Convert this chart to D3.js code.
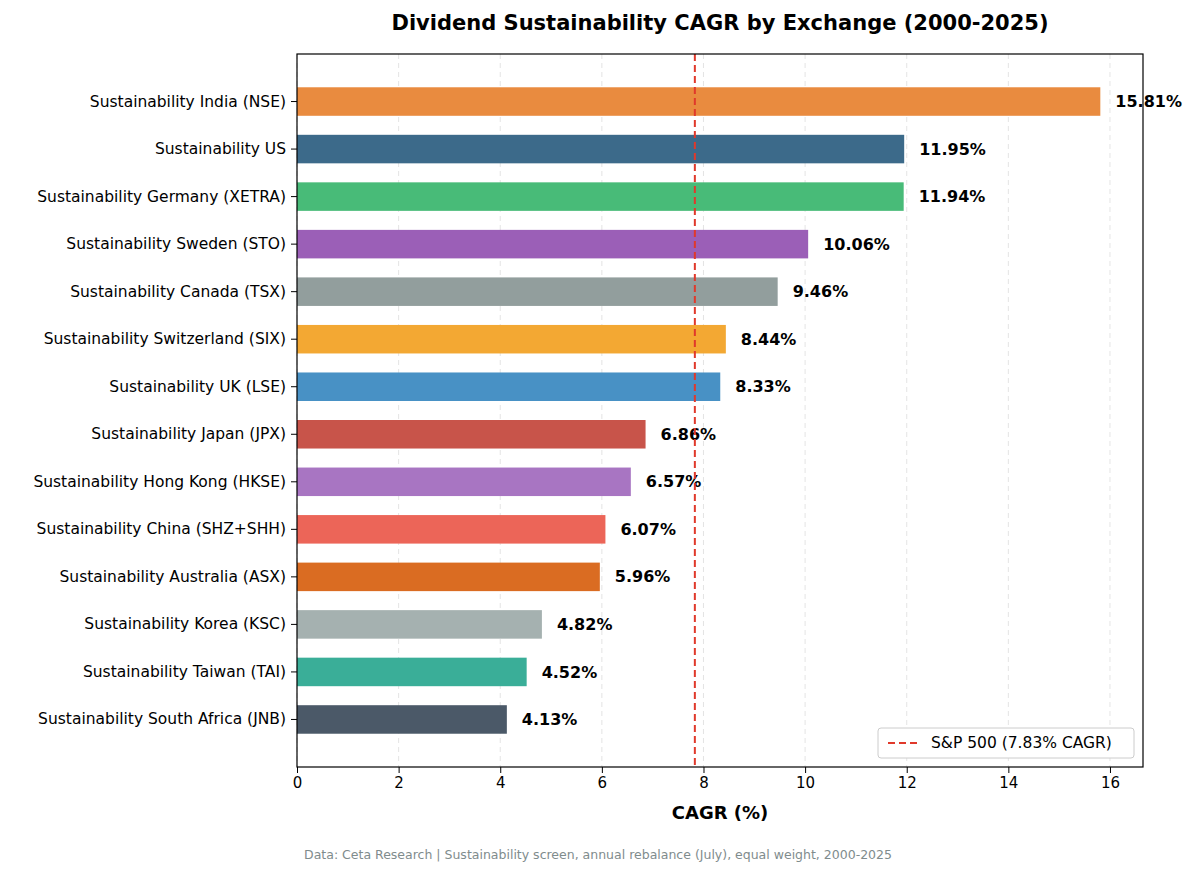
<!DOCTYPE html>
<html><head><meta charset="utf-8">
<script src="https://cdn.jsdelivr.net/npm/d3@7"></script>
<style>body{margin:0;background:#fff;font-family:"DejaVu Sans",sans-serif;}</style>
</head><body><div id="chart"></div>
<script>
const categories = ["Sustainability India (NSE)","Sustainability US","Sustainability Germany (XETRA)","Sustainability Sweden (STO)","Sustainability Canada (TSX)","Sustainability Switzerland (SIX)","Sustainability UK (LSE)","Sustainability Japan (JPX)","Sustainability Hong Kong (HKSE)","Sustainability China (SHZ+SHH)","Sustainability Australia (ASX)","Sustainability Korea (KSC)","Sustainability Taiwan (TAI)","Sustainability South Africa (JNB)"];
const cagr = [15.81,11.95,11.94,10.06,9.46,8.44,8.33,6.86,6.57,6.07,5.96,4.82,4.52,4.13];
const colors = ["#e98b3f","#3c6a8a","#48bb78","#9b5fb7","#929e9d","#f3a833","#4891c5","#c8544a","#a875c2","#ec6558","#da6c22","#a5b1b0","#3aae98","#4b5968"];
const xTicks = [0,2,4,6,8,10,12,14,16];
const benchmark = 7.83;

const W = 1200, H = 873;
const m = {top:54, right:57, bottom:106, left:297};
const w = W - m.left - m.right, h = H - m.top - m.bottom;

const svg = d3.select("#chart").append("svg").attr("width", W).attr("height", H)
    .style("font-family", "'DejaVu Sans', sans-serif");
const g = svg.append("g").attr("transform", `translate(${m.left},${m.top})`);

const x = d3.scaleLinear().domain([0, 16.65]).range([0, w]);
const y = d3.scaleBand().domain(categories).range([0, h]).paddingInner(0.4).paddingOuter(0.7);

g.selectAll(".grid").data(xTicks).join("line")
    .attr("x1", d => x(d)).attr("x2", d => x(d)).attr("y1", 0).attr("y2", h)
    .attr("stroke", "#ddd").attr("stroke-dasharray", "5,4").attr("stroke-width", 0.8);

g.selectAll(".bar").data(categories).join("rect")
    .attr("x", 0).attr("y", d => y(d)).attr("height", y.bandwidth())
    .attr("width", (d, i) => x(cagr[i])).attr("fill", (d, i) => colors[i]);

g.selectAll(".lbl").data(categories).join("text")
    .attr("x", (d, i) => x(cagr[i]) + 15).attr("y", d => y(d) + y.bandwidth() / 2)
    .attr("dy", "0.35em").attr("font-size", 16).attr("font-weight", "bold")
    .text((d, i) => cagr[i].toFixed(2) + "%");

g.append("line").attr("x1", x(benchmark)).attr("x2", x(benchmark)).attr("y1", 0).attr("y2", h)
    .attr("stroke", "#e0392b").attr("stroke-width", 2).attr("stroke-dasharray", "7,4");

const xAxis = g.append("g").attr("transform", `translate(0,${h})`)
    .call(d3.axisBottom(x).tickValues(xTicks).tickSize(6).tickPadding(4));
xAxis.attr("font-family", "'DejaVu Sans', sans-serif").attr("font-size", 15);
xAxis.selectAll("text").attr("fill", "#000");
xAxis.select(".domain").remove();

const yAxis = g.append("g").call(d3.axisLeft(y).tickSize(6).tickPadding(5));
yAxis.attr("font-family", "'DejaVu Sans', sans-serif").attr("font-size", 15.5);
yAxis.selectAll("text").attr("fill", "#000");
yAxis.select(".domain").remove();

g.append("rect").attr("width", w).attr("height", h).attr("fill", "none").attr("stroke", "#000").attr("stroke-width", 1.2);

// legend
const lg = g.append("g").attr("transform", `translate(${w - 265},${h - 39})`);
lg.append("rect").attr("width", 256).attr("height", 30).attr("rx", 3)
    .attr("fill", "#fff").attr("stroke", "#ccc");
lg.append("line").attr("x1", 10).attr("x2", 40).attr("y1", 15).attr("y2", 15)
    .attr("stroke", "#e0392b").attr("stroke-width", 2).attr("stroke-dasharray", "7,4");
lg.append("text").attr("x", 53).attr("y", 15).attr("dy", "0.35em").attr("font-size", 15.5)
    .text(`S&P 500 (${benchmark.toFixed(2)}% CAGR)`);

svg.append("text").attr("x", m.left + w / 2).attr("y", 30).attr("text-anchor", "middle")
    .attr("font-size", 21).attr("font-weight", "bold").text("Dividend Sustainability CAGR by Exchange (2000-2025)");
svg.append("text").attr("x", m.left + w / 2).attr("y", 819).attr("text-anchor", "middle")
    .attr("font-size", 18).attr("font-weight", "bold").text("CAGR (%)");
svg.append("text").attr("x", 598).attr("y", 859).attr("text-anchor", "middle")
    .attr("font-size", 12.5).attr("fill", "#7f8c8d")
    .text("Data: Ceta Research | Sustainability screen, annual rebalance (July), equal weight, 2000-2025");
</script></body></html>
